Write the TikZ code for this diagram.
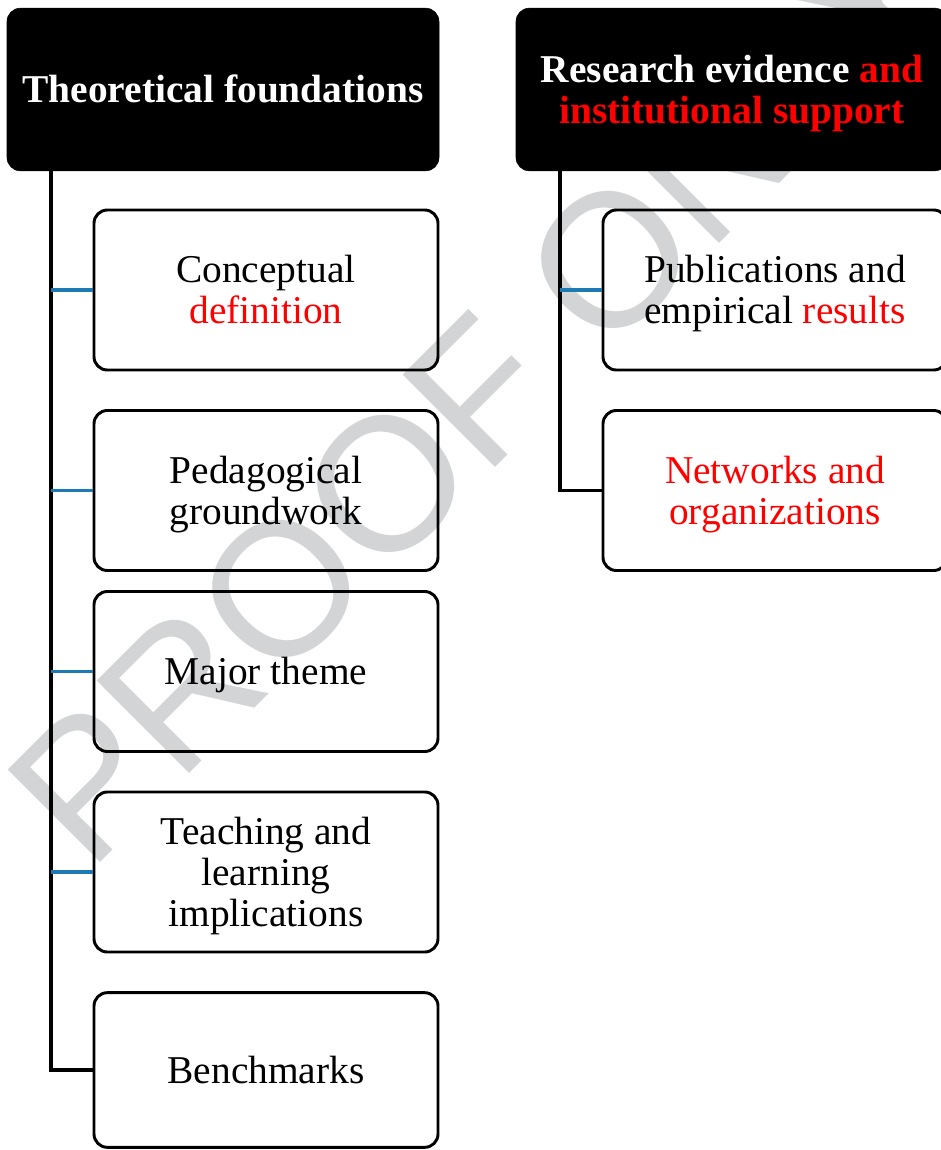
\documentclass[tikz,border=0pt]{standalone}
\usepackage{fontspec}
\setmainfont{Liberation Serif}
\newfontfamily\wmfont{Liberation Sans}
\definecolor{branchblue}{RGB}{30,122,178}
\definecolor{wmgray}{RGB}{211,212,214}
\definecolor{hired}{RGB}{255,0,0}

% equal struts above the first and below the last line, so that
% descenders do not shift a text block off the box centre
\newcommand\boxtext[1]{\rule{0pt}{27pt}#1\rule[-7pt]{0pt}{0pt}}

\tikzset{
  bigtext/.style={font=\fontsize{29.55}{30.75}\selectfont},
  headbox/.style={rectangle, rounded corners=10pt, fill=black, draw=black,
    minimum width=324pt, minimum height=122pt, align=center, text=white,
    font=\bfseries\fontsize{29.55}{30.75}\selectfont, inner sep=0pt},
  itembox/.style={rectangle, rounded corners=10pt, draw=black, line width=2.2pt,
    minimum width=258pt, minimum height=120pt, align=center, bigtext, inner sep=0pt},
  trunk/.style={draw=black, line width=2.3pt},
  branch/.style={draw=branchblue, line width=2.3pt},
  watermark/.style={text=wmgray, inner sep=0pt, anchor=base west, rotate=45,
    font=\wmfont\fontsize{142.5}{150}\selectfont}
}

\begin{document}
\begin{tikzpicture}[x=0.75pt, y=-0.75pt]
\useasboundingbox (0,0) rectangle (941,1150);
\clip (0,0) rectangle (941,1150);

% proof stamp behind everything
\node[watermark] (stamp) at (89,874) {PROOF ONLY};

% column headers
\node[headbox] (th) at (223,89.5) {\boxtext{Theoretical foundations}};
\node[headbox] (re) at (732,89.5) {\boxtext{Research evidence \textcolor{hired}{and}\\
  \textcolor{hired}{institutional support}}};

% left column items
\node[itembox] (c1) at (266,290) {\boxtext{Conceptual\\\textcolor{hired}{definition}}};
\node[itembox] (c2) at (266,490.5) {\boxtext{Pedagogical\\groundwork}};
\node[itembox] (c3) at (266,671.5) {\boxtext{Major theme}};
\node[itembox] (c4) at (266,872) {\boxtext{Teaching and\\learning\\implications}};
\node[itembox, minimum height=116pt] (c5) at (266,1070) {\boxtext{Benchmarks}};

% right column items
\node[itembox] (r1) at (775,290) {\boxtext{Publications and\\empirical \textcolor{hired}{results}}};
\node[itembox] (r2) at (775,490.5) {\boxtext{\textcolor{hired}{Networks and}\\\textcolor{hired}{organizations}}};

% trunk positions
\coordinate (lt) at (51,0);
\coordinate (rt) at (560,0);

% left tree
\draw[trunk] (lt |- th.south) |- (c5.west);
\draw[branch] (lt |- c1.west) -- (c1.west);
\draw[branch] (lt |- c2.west) -- (c2.west);
\draw[branch] (lt |- c3.west) -- (c3.west);
\draw[branch] (lt |- c4.west) -- (c4.west);

% right tree
\draw[trunk] (rt |- re.south) |- (r2.west);
\draw[branch] (rt |- r1.west) -- (r1.west);
\end{tikzpicture}
\end{document}
